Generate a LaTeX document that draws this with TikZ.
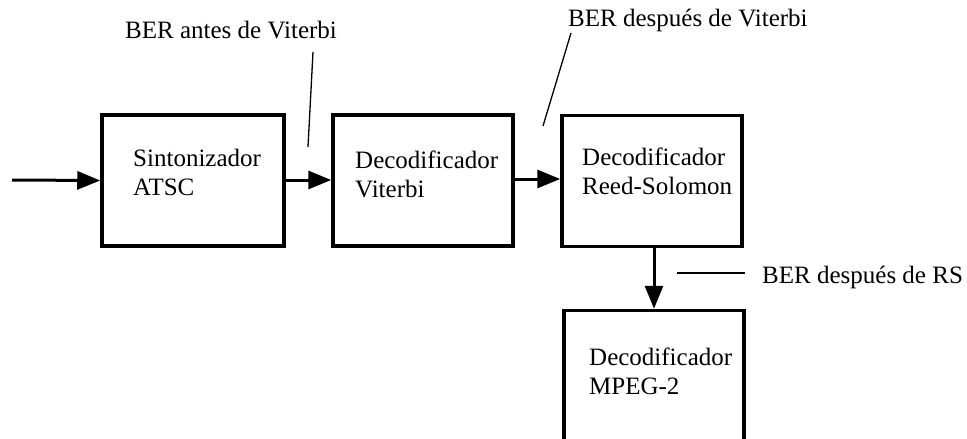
\documentclass[tikz,border=0pt]{standalone}
\usepackage{fontspec}
\setmainfont{Liberation Serif}
\usetikzlibrary{arrows.meta}
\begin{document}
\begin{tikzpicture}[x=1pt,y=-1pt,
  blk/.style={draw=black,line width=3.5pt,minimum width=180pt,minimum height=131pt,inner sep=0pt},
  txt/.style={inner sep=0pt,align=left,font=\fontsize{25}{29}\selectfont},
  lbl/.style={inner sep=0pt,font=\fontsize{25}{29}\selectfont},
  flow/.style={line width=3pt,-{Triangle[length=23pt,width=18pt]}},
  lead/.style={line width=1.3pt}]
\useasboundingbox (0,0) rectangle (967,439);
\clip (0,0) rectangle (967,439);
% blocks
\node[blk,minimum width=182pt] (b1) at (193,180.5) {};
\node[blk] (b2) at (423,180.5) {};
\node[blk] (b3) at (652,181) {};
\node[blk] (b4) at (654,376) {};
% texts (anchor at baseline of last line)
\node[txt,anchor=base west] (t1) at (133,195) {Sintonizador\\ATSC};
\node[txt,anchor=base west] (t2) at (355,197) {Decodificador\\Viterbi};
\node[txt,anchor=base west] (t3) at (582,194) {Decodificador\\Reed-Solomon};
\node[txt,anchor=base west] (t4) at (589,394) {Decodificador\\MPEG-2};
% flow arrows
\coordinate (in) at (12,180);
\draw[flow] (in) -- (b1.west);
\draw[flow] (b1.east |- 0,180) -- (b2.west |- 0,180);
\draw[flow] (b2.east |- 0,179) -- (b3.west |- 0,179);
\draw[flow] (b3.south -| 654,0) -- (b4.north -| 654,0);
% labels
\node[lbl,anchor=base west] (l1) at (125,38) {BER antes de Viterbi};
\node[lbl,anchor=base west] (l2) at (568,27) {BER después de Viterbi};
\node[lbl,anchor=base west] (l3) at (762,283) {BER después de RS};
\coordinate (p1a) at (313,52);
\coordinate (p1b) at (308,147);
\coordinate (p2a) at (571,33);
\coordinate (p2b) at (543,126);
\coordinate (p3a) at (677,273);
\coordinate (p3b) at (745,273);
\draw[lead] (p1a) -- (p1b);
\draw[lead] (p2a) -- (p2b);
\draw[lead] (p3a) -- (p3b);
\end{tikzpicture}
\end{document}
